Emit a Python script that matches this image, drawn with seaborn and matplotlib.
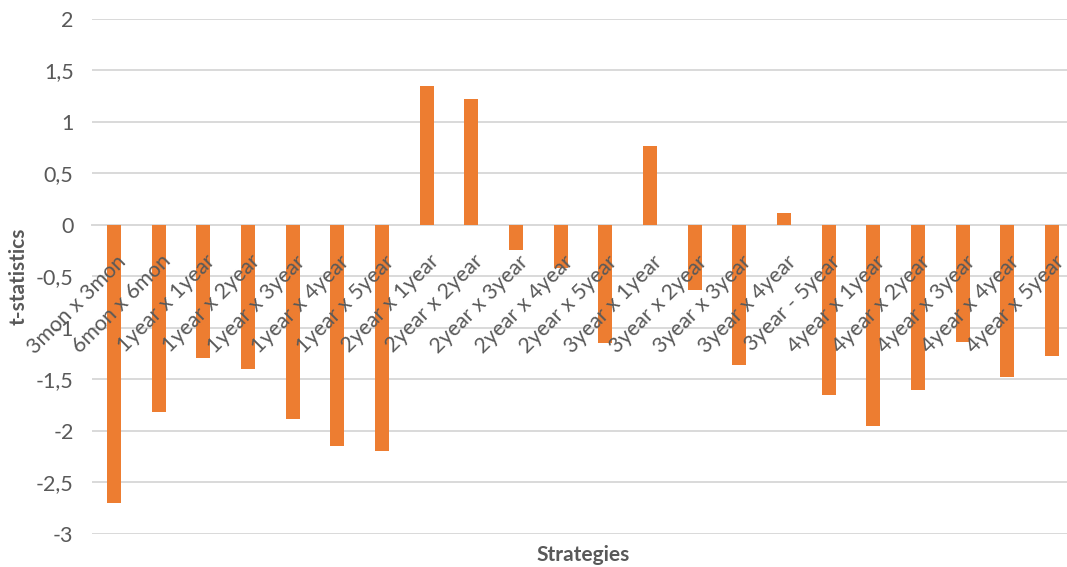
import matplotlib
matplotlib.use("Agg")
import matplotlib.pyplot as plt
from matplotlib.ticker import FuncFormatter
from matplotlib.transforms import ScaledTranslation
import seaborn as sns
import pandas as pd

strategies = [
    "3mon x 3mon", "6mon x 6mon", "1year x 1year", "1year x 2year",
    "1year x 3year", "1year x 4year", "1year x 5year", "2year x 1year",
    "2year x 2year", "2year x 3year", "2year x 4year", "2year x 5year",
    "3year x 1year", "3year x 2year", "3year x 3year", "3year x 4year",
    "3year - 5year", "4year x 1year", "4year x 2year", "4year x 3year",
    "4year x 4year", "4year x 5year",
]
t_stats = [
    -2.70, -1.82, -1.29, -1.40, -1.88, -2.15, -2.19, 1.35,
    1.22, -0.24, -0.42, -1.15, 0.77, -0.63, -1.36, 0.12,
    -1.65, -1.95, -1.60, -1.14, -1.48, -1.27,
]
y_ticks = [-3, -2.5, -2, -1.5, -1, -0.5, 0, 0.5, 1, 1.5, 2]

BAR = "#ED7D31"
GRID = "#D9D9D9"
TEXT = "#595959"

sns.set_theme(style="white")
plt.rcParams["font.family"] = ["Lato", "DejaVu Sans"]

df = pd.DataFrame({"Strategies": strategies, "t-statistics": t_stats})

fig = plt.figure(figsize=(10.67, 5.67), dpi=100)
ax = fig.add_axes([0.0859, 0.0582, 0.921, 0.9083])

sns.barplot(data=df, x="Strategies", y="t-statistics", color=BAR,
            saturation=1, width=0.31, linewidth=0, ax=ax)

ax.set_ylim(-3, 2)
ax.set_yticks(y_ticks)
ax.yaxis.set_major_formatter(FuncFormatter(lambda v, p: f"{v:g}".replace(".", ",")))
ax.yaxis.grid(True, color=GRID, linewidth=1.4)
ax.set_axisbelow(True)
# category labels sit on top of the bars, the grid stays behind them
ax.xaxis.set_zorder(3)

for side in ("top", "right", "left"):
    ax.spines[side].set_visible(False)
ax.spines["bottom"].set_position(("data", 0))
ax.spines["bottom"].set_color(GRID)
ax.spines["bottom"].set_linewidth(1.4)
ax.spines["bottom"].set_zorder(0.6)

ax.tick_params(axis="y", length=0, pad=13, labelsize=15.5, labelcolor=TEXT)
ax.tick_params(axis="x", length=0, pad=24, labelsize=15.5, labelcolor=TEXT)
shift = ScaledTranslation(0.09, 0, fig.dpi_scale_trans)
for lbl in ax.get_xticklabels():
    lbl.set_rotation(45)
    lbl.set_ha("right")
    lbl.set_va("center")
    lbl.set_rotation_mode("anchor")
    lbl.set_transform(lbl.get_transform() + shift)

ax.set_xlabel("Strategies", fontsize=15, fontweight="bold", color=TEXT, va="baseline")
ax.xaxis.set_label_coords(0.5, -0.052)
ax.set_ylabel("t-statistics", fontsize=15, fontweight="bold", color=TEXT, va="center")
ax.yaxis.set_label_coords(-0.074, 0.5)

fig.savefig("out.png", dpi=100)
